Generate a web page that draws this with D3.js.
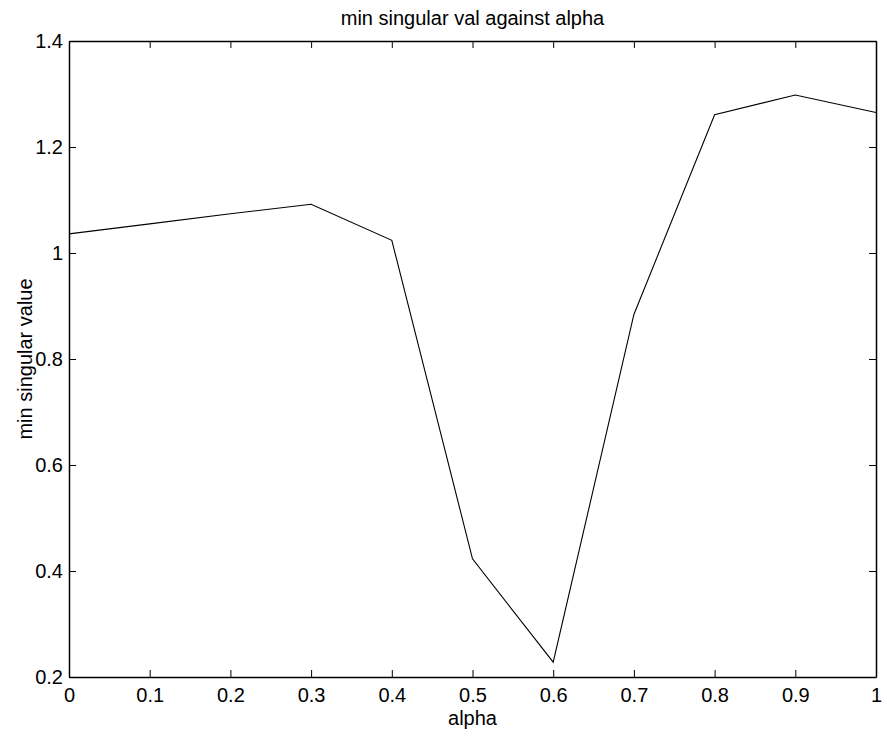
<!DOCTYPE html>
<html>
<head>
<meta charset="utf-8">
<script src="https://cdn.jsdelivr.net/npm/d3@7"></script>
<style>
  body { margin: 0; background: #fff; }
  text { font-family: 'Liberation Sans', Arial, Helvetica, sans-serif; fill: #000; }
</style>
</head>
<body>
<div id="chart"></div>
<script>
// values
const alphas = [0, 0.1, 0.2, 0.3, 0.4, 0.5, 0.6, 0.7, 0.8, 0.9, 1.0]
const minSingular = [1.036, 1.055, 1.074, 1.092, 1.024, 0.423, 0.228, 0.884, 1.261, 1.298, 1.265]
const xTicks = [0, 0.1, 0.2, 0.3, 0.4, 0.5, 0.6, 0.7, 0.8, 0.9, 1]
const yTicks = [0.2, 0.4, 0.6, 0.8, 1, 1.2, 1.4]
const titleText = 'min singular val against alpha'
const xLabel = 'alpha'
const yLabel = 'min singular value'

const width = 887
const height = 738
const margin = { top: 41, right: 11, bottom: 61, left: 69 }
const innerW = width - margin.left - margin.right
const innerH = height - margin.top - margin.bottom
const tickLen = 7
const fontSize = 20

const svg = d3.select('#chart').append('svg')
  .attr('width', width)
  .attr('height', height)

const g = svg.append('g')
  .attr('transform', `translate(${margin.left}, ${margin.top})`)

const x = d3.scaleLinear().domain([0, 1]).range([0, innerW])
const y = d3.scaleLinear().domain([0.2, 1.4]).range([innerH, 0])

const fmt = d => String(+d.toFixed(1))

// bottom axis with labels, top axis ticks only (matlab box style)
const xAxisBottom = g.append('g')
  .attr('transform', `translate(0, ${innerH})`)
  .call(d3.axisBottom(x).tickValues(xTicks).tickSizeInner(-tickLen).tickSizeOuter(0).tickPadding(11).tickFormat(fmt))
const xAxisTop = g.append('g')
  .call(d3.axisTop(x).tickValues(xTicks).tickSizeInner(-tickLen).tickSizeOuter(0).tickFormat(''))
const yAxisLeft = g.append('g')
  .call(d3.axisLeft(y).tickValues(yTicks).tickSizeInner(-tickLen).tickSizeOuter(0).tickPadding(6).tickFormat(fmt))
const yAxisRight = g.append('g')
  .attr('transform', `translate(${innerW}, 0)`)
  .call(d3.axisRight(y).tickValues(yTicks).tickSizeInner(-tickLen).tickSizeOuter(0).tickFormat(''))

;[xAxisBottom, xAxisTop, yAxisLeft, yAxisRight].forEach(a => {
  a.select('.domain').attr('stroke', '#000').attr('stroke-width', 1.5)
  a.selectAll('.tick line').attr('stroke', '#000').attr('stroke-width', 1)
  a.selectAll('.tick text')
    .style('font-family', "'Liberation Sans', Arial, Helvetica, sans-serif")
    .style('font-size', fontSize + 'px')
    .attr('fill', '#000')
})

// the data line
const line = d3.line()
  .x((d, i) => x(alphas[i]))
  .y(d => y(d))

g.append('path')
  .datum(minSingular)
  .attr('d', line)
  .attr('fill', 'none')
  .attr('stroke', '#000')
  .attr('stroke-width', 1.1)
  .attr('stroke-linejoin', 'miter')

// title and axis labels
svg.append('text')
  .text(titleText)
  .attr('x', margin.left + innerW / 2)
  .attr('y', 25)
  .attr('text-anchor', 'middle')
  .style('font-size', fontSize + 'px')

svg.append('text')
  .text(xLabel)
  .attr('x', margin.left + innerW / 2)
  .attr('y', 725)
  .attr('text-anchor', 'middle')
  .style('font-size', fontSize + 'px')

svg.append('text')
  .text(yLabel)
  .attr('transform', `translate(32, ${margin.top + innerH / 2}) rotate(-90)`)
  .attr('text-anchor', 'middle')
  .style('font-size', fontSize + 'px')
</script>
</body>
</html>
